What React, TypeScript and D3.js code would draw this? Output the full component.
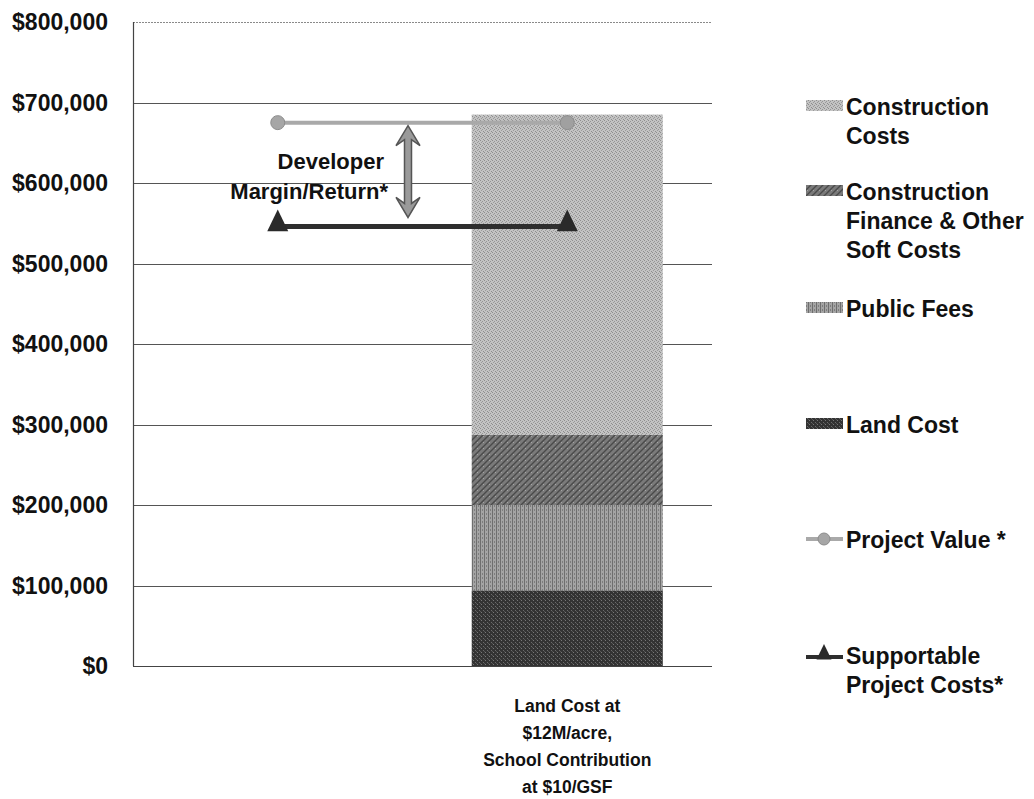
import * as d3 from "d3";

// categories on the x axis (the first slot only carries the left end of the lines)
const categories = ["start", "scenario"];
const categoryLabels = [[], ["Land Cost at", "$12M/acre,", "School Contribution", "at $10/GSF"]];

// stacked cost components, bottom to top
const landCost = [0, 94000];
const publicFees = [0, 106000];
const financeSoft = [0, 87000];
const constructionCosts = [0, 398000];

// line series
const projectValue = [675000, 675000];
const supportableCosts = [546000, 546000];

const yTickValues = [0, 100000, 200000, 300000, 400000, 500000, 600000, 700000, 800000];

const seriesKeys = ["land", "fees", "finance", "construction"];
const seriesColor: Record<string, string> = {
  land: "#3e3e3e",
  fees: "#959595",
  finance: "#6f6f6f",
  construction: "#b6b6b6",
};

const W = 1034;
const H = 799;
const plot = { left: 133, right: 712, top: 22, bottom: 666 };
const FONT = "'Liberation Sans', Arial, sans-serif";

// small dither-like fills, one per series
function Patterns() {
  return (
    <defs>
      <pattern id="p-construction" width={4} height={4} patternUnits="userSpaceOnUse">
        <rect width={4} height={4} fill="#c3c3c3" />
        <rect x={0} y={0} width={1} height={1} fill="#8e8e8e" />
        <rect x={2} y={1} width={1} height={1} fill="#959595" />
        <rect x={1} y={2} width={1} height={1} fill="#9a9a9a" />
        <rect x={3} y={3} width={1} height={1} fill="#8e8e8e" />
      </pattern>
      <pattern id="p-finance" width={6} height={6} patternUnits="userSpaceOnUse">
        <rect width={6} height={6} fill="#7a7a7a" />
        <path d="M0,6L6,0M-1,1L1,-1M5,7L7,5" stroke="#4a4a4a" strokeWidth={1.4} />
        <rect x={3} y={4} width={1} height={1} fill="#a5a5a5" />
      </pattern>
      <pattern id="p-fees" width={4} height={4} patternUnits="userSpaceOnUse">
        <rect width={4} height={4} fill="#a4a4a4" />
        <rect x={0} y={0} width={1} height={4} fill="#6e6e6e" />
        <rect x={2} y={1} width={1} height={2} fill="#7d7d7d" />
      </pattern>
      <pattern id="p-land" width={4} height={4} patternUnits="userSpaceOnUse">
        <rect width={4} height={4} fill="#333" />
        <rect x={1} y={0} width={1} height={1} fill="#777" />
        <rect x={3} y={2} width={1} height={1} fill="#6a6a6a" />
        <rect x={0} y={3} width={1} height={1} fill="#555" />
      </pattern>
    </defs>
  );
}

export default function App() {
  const x = d3.scaleBand().domain(categories).range([plot.left, plot.right]);
  const y = d3.scaleLinear().domain([0, 800000]).range([plot.bottom, plot.top]);
  const fmt = (v: number) => "$" + d3.format(",")(v);

  const rows = categories.map((c, i) => ({
    cat: c,
    land: landCost[i],
    fees: publicFees[i],
    finance: financeSoft[i],
    construction: constructionCosts[i],
  }));
  const stacked = d3.stack<any>().keys(seriesKeys)(rows);
  const barW = x.bandwidth() * 0.66;
  const cx = (c: string) => (x(c) as number) + x.bandwidth() / 2;

  const seriesLine = d3
    .line<number>()
    .x((_, i) => cx(categories[i]))
    .y((d) => y(d));

  // double-headed arrow between the two lines
  const ax = 408;
  const aTop = y(projectValue[0]) + 3;
  const aBot = y(supportableCosts[0]) - 9;
  const hw = 12, hl = 20, sw = 3.5;
  const arrowPath = [
    [ax, aTop], [ax + hw, aTop + hl], [ax + sw, aTop + hl - 6], [ax + sw, aBot - hl + 6],
    [ax + hw, aBot - hl], [ax, aBot], [ax - hw, aBot - hl], [ax - sw, aBot - hl + 6],
    [ax - sw, aTop + hl - 6], [ax - hw, aTop + hl],
  ];

  const tri = (px: number, py: number, s: number) =>
    `M${px},${py - s}L${px + s * 0.75},${py + s * 0.55}L${px - s * 0.75},${py + s * 0.55}Z`;

  const legend = [
    { lines: ["Construction", "Costs"], type: "construction", y: 115 },
    { lines: ["Construction", "Finance & Other", "Soft Costs"], type: "finance", y: 200 },
    { lines: ["Public Fees"], type: "fees", y: 317 },
    { lines: ["Land Cost"], type: "land", y: 433 },
    { lines: ["Project Value *"], type: "pv", y: 548 },
    { lines: ["Supportable", "Project Costs*"], type: "sc", y: 664 },
  ];

  return (
    <div style={{ position: "absolute", left: 0, top: 0 }}>
      <svg width={W} height={H} style={{ display: "block", background: "#fff" }}>
        <Patterns />
        {/* frame and gridlines */}
        <line x1={plot.left} x2={plot.right} y1={plot.top + 0.5} y2={plot.top + 0.5} stroke="#8a8a8a" strokeWidth={1} strokeDasharray="2,1" />
        {yTickValues.slice(1, -1).map((t) => (
          <line key={t} x1={plot.left} x2={plot.right} y1={Math.round(y(t)) + 0.5} y2={Math.round(y(t)) + 0.5} stroke="#555" strokeWidth={1} />
        ))}
        <line x1={plot.left} x2={plot.right} y1={plot.bottom + 0.5} y2={plot.bottom + 0.5} stroke="#444" strokeWidth={1} />
        <line x1={plot.left + 0.5} x2={plot.left + 0.5} y1={plot.top} y2={plot.bottom} stroke="#444" strokeWidth={1.2} />

        {yTickValues.map((t) => (
          <text key={t} x={108} y={y(t)} dy="0.36em" textAnchor="end" fontFamily={FONT} fontWeight="bold" fontSize={23} fill="#111">
            {fmt(t)}
          </text>
        ))}

        {/* stacked bar */}
        {stacked.map((s) =>
          s.map((d, i) =>
            d[1] - d[0] > 0 ? (
              <rect
                key={s.key + i}
                x={cx(categories[i]) - barW / 2}
                width={barW}
                y={y(d[1])}
                height={y(d[0]) - y(d[1])}
                fill={`url(#p-${s.key})`}
              />
            ) : null
          )
        )}

        {/* project value line */}
        <path d={seriesLine(projectValue) || ""} fill="none" stroke="#a9a9a9" strokeWidth={4} />
        {projectValue.map((v, i) => (
          <circle key={i} cx={cx(categories[i])} cy={y(v)} r={7} fill={i === 0 ? "#a6a6a6" : "#a0a0a0"} stroke="#8c8c8c" strokeWidth={1} />
        ))}

        {/* supportable project costs line */}
        <path d={seriesLine(supportableCosts) || ""} fill="none" stroke="#2e2e2e" strokeWidth={5} />
        {supportableCosts.map((v, i) => (
          <path key={i} d={tri(cx(categories[i]), y(v) - 3, 14)} fill="#2a2a2a" />
        ))}

        {/* developer margin annotation */}
        <polygon points={arrowPath.map((p) => p.join(",")).join(" ")} fill="#9a9a9a" stroke="#555" strokeWidth={1.5} />
        <text x={384} y={169} textAnchor="end" fontFamily={FONT} fontWeight="bold" fontSize={22} fill="#111">Developer</text>
        <text x={388} y={199} textAnchor="end" fontFamily={FONT} fontWeight="bold" fontSize={22} fill="#111">Margin/Return*</text>

        {/* category labels */}
        {categoryLabels.map((lines, i) => (
          <text key={i} textAnchor="middle" fontFamily={FONT} fontWeight="bold" fontSize={17.5} fill="#111">
            {lines.map((l, j) => (
              <tspan key={j} x={cx(categories[i])} y={712 + j * 27}>{l}</tspan>
            ))}
          </text>
        ))}

        {/* legend */}
        {legend.map((it) => (
          <g key={it.type}>
            {seriesColor[it.type] ? (
              <rect x={806} y={it.y - 15} width={37} height={11} fill={`url(#p-${it.type})`} />
            ) : it.type === "pv" ? (
              <g>
                <line x1={806} x2={843} y1={it.y - 9} y2={it.y - 9} stroke="#a9a9a9" strokeWidth={4} />
                <circle cx={824} cy={it.y - 9} r={6} fill="#a6a6a6" stroke="#8c8c8c" />
              </g>
            ) : (
              <g>
                <line x1={806} x2={843} y1={it.y - 7} y2={it.y - 7} stroke="#2e2e2e" strokeWidth={4} />
                <path d={tri(824, it.y - 10, 10)} fill="#2a2a2a" />
              </g>
            )}
            <text fontFamily={FONT} fontWeight="bold" fontSize={23} fill="#111">
              {it.lines.map((l, j) => (
                <tspan key={j} x={846} y={it.y + j * 29}>{l}</tspan>
              ))}
            </text>
          </g>
        ))}
      </svg>
    </div>
  );
}
